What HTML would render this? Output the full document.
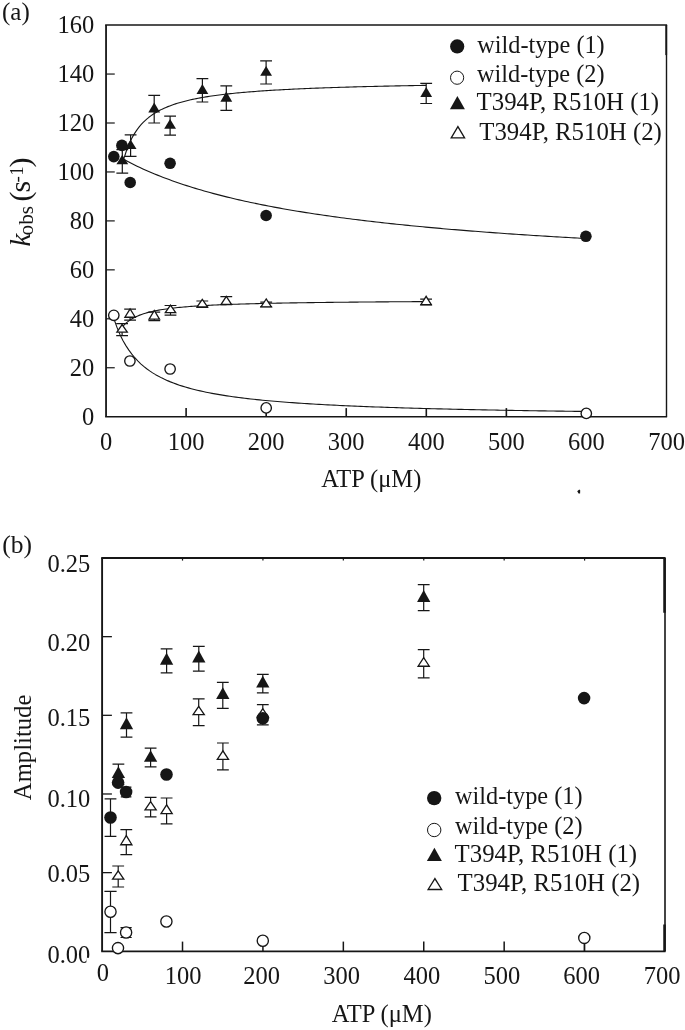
<!DOCTYPE html>
<html><head><meta charset="utf-8"><style>
html,body{margin:0;padding:0;background:#fff;}
svg{display:block;will-change:transform;}
text{font-family:"Liberation Serif",serif;fill:#161616;}
</style></head><body>
<svg width="685" height="1030" viewBox="0 0 685 1030">
<rect width="685" height="1030" fill="#fff"/>
<path d="M106.05 25.1V416.7" stroke="#161616" stroke-width="1.8"/>
<path d="M105.14999999999999 416.7H667.1" stroke="#161616" stroke-width="1.6"/>
<path d="M105.14999999999999 25.1H667.1" stroke="#161616" stroke-width="1.5"/>
<path d="M666.5 25.1V416.7" stroke="#161616" stroke-width="1.4"/>
<path d="M666.2 25.1V55.1" stroke="#161616" stroke-width="1.8"/>
<path d="M106.05 367.75H114.75" stroke="#161616" stroke-width="1.2"/>
<path d="M106.05 318.80H114.75" stroke="#161616" stroke-width="1.2"/>
<path d="M106.05 269.85H114.75" stroke="#161616" stroke-width="1.2"/>
<path d="M106.05 220.90H114.75" stroke="#161616" stroke-width="1.2"/>
<path d="M106.05 171.95H114.75" stroke="#161616" stroke-width="1.2"/>
<path d="M106.05 123.00H114.75" stroke="#161616" stroke-width="1.2"/>
<path d="M106.05 74.05H114.75" stroke="#161616" stroke-width="1.2"/>
<path d="M186.11 416.7V408.09999999999997" stroke="#161616" stroke-width="1.6"/>
<path d="M266.18 416.7V408.09999999999997" stroke="#161616" stroke-width="1.6"/>
<path d="M346.24 416.7V408.09999999999997" stroke="#161616" stroke-width="1.6"/>
<path d="M426.31 416.7V408.09999999999997" stroke="#161616" stroke-width="1.6"/>
<path d="M506.37 416.7V408.09999999999997" stroke="#161616" stroke-width="1.6"/>
<path d="M586.44 416.7V408.09999999999997" stroke="#161616" stroke-width="1.6"/>
<path d="M124.20 157.74 L126.10 151.77 L128.00 146.65 L129.90 142.21 L131.80 138.32 L133.70 134.89 L135.60 131.84 L137.50 129.11 L139.39 126.66 L141.29 124.43 L143.19 122.41 L145.09 120.56 L146.99 118.87 L148.89 117.31 L150.79 115.88 L152.69 114.55 L154.59 113.31 L156.49 112.16 L158.39 111.08 L160.29 110.08 L162.19 109.13 L164.09 108.25 L165.99 107.42 L167.89 106.63 L169.78 105.89 L171.68 105.18 L173.58 104.52 L175.48 103.89 L177.38 103.29 L179.28 102.72 L181.18 102.17 L183.08 101.66 L184.98 101.16 L186.88 100.69 L188.78 100.24 L190.68 99.80 L192.58 99.39 L194.48 98.99 L196.38 98.61 L198.28 98.24 L200.17 97.89 L202.07 97.55 L203.97 97.22 L205.87 96.91 L207.77 96.60 L209.67 96.31 L211.57 96.03 L213.47 95.75 L215.37 95.49 L217.27 95.23 L219.17 94.98 L221.07 94.74 L222.97 94.51 L224.87 94.29 L226.77 94.07 L228.67 93.86 L230.56 93.65 L232.46 93.45 L234.36 93.26 L236.26 93.07 L238.16 92.89 L240.06 92.71 L241.96 92.53 L243.86 92.37 L245.76 92.20 L247.66 92.04 L249.56 91.89 L251.46 91.73 L253.36 91.59 L255.26 91.44 L257.16 91.30 L259.06 91.16 L260.95 91.03 L262.85 90.90 L264.75 90.77 L266.65 90.64 L268.55 90.52 L270.45 90.40 L272.35 90.28 L274.25 90.17 L276.15 90.06 L278.05 89.95 L279.95 89.84 L281.85 89.74 L283.75 89.63 L285.65 89.53 L287.55 89.43 L289.45 89.34 L291.34 89.24 L293.24 89.15 L295.14 89.06 L297.04 88.97 L298.94 88.88 L300.84 88.80 L302.74 88.71 L304.64 88.63 L306.54 88.55 L308.44 88.47 L310.34 88.39 L312.24 88.31 L314.14 88.24 L316.04 88.17 L317.94 88.09 L319.84 88.02 L321.73 87.95 L323.63 87.88 L325.53 87.81 L327.43 87.75 L329.33 87.68 L331.23 87.62 L333.13 87.55 L335.03 87.49 L336.93 87.43 L338.83 87.37 L340.73 87.31 L342.63 87.25 L344.53 87.19 L346.43 87.14 L348.33 87.08 L350.23 87.03 L352.12 86.97 L354.02 86.92 L355.92 86.87 L357.82 86.81 L359.72 86.76 L361.62 86.71 L363.52 86.66 L365.42 86.61 L367.32 86.57 L369.22 86.52 L371.12 86.47 L373.02 86.43 L374.92 86.38 L376.82 86.34 L378.72 86.29 L380.62 86.25 L382.51 86.20 L384.41 86.16 L386.31 86.12 L388.21 86.08 L390.11 86.04 L392.01 86.00 L393.91 85.96 L395.81 85.92 L397.71 85.88 L399.61 85.84 L401.51 85.80 L403.41 85.77 L405.31 85.73 L407.21 85.69 L409.11 85.66 L411.01 85.62 L412.90 85.59 L414.80 85.55 L416.70 85.52 L418.60 85.48 L420.50 85.45 L422.40 85.42 L424.30 85.38 L426.20 85.35" stroke="#161616" stroke-width="1.1" fill="none" stroke-linejoin="round"/>
<path d="M122.50 158.75 L125.42 160.31 L128.33 161.84 L131.25 163.32 L134.16 164.77 L137.08 166.18 L139.99 167.55 L142.91 168.89 L145.82 170.20 L148.74 171.47 L151.65 172.72 L154.57 173.93 L157.48 175.12 L160.40 176.28 L163.31 177.41 L166.23 178.52 L169.14 179.60 L172.06 180.66 L174.97 181.70 L177.89 182.71 L180.80 183.70 L183.72 184.67 L186.63 185.62 L189.55 186.55 L192.46 187.47 L195.38 188.36 L198.29 189.23 L201.21 190.09 L204.12 190.93 L207.04 191.76 L209.95 192.56 L212.87 193.36 L215.78 194.13 L218.70 194.90 L221.61 195.65 L224.53 196.38 L227.44 197.10 L230.36 197.81 L233.27 198.51 L236.19 199.19 L239.10 199.86 L242.02 200.52 L244.93 201.17 L247.85 201.81 L250.76 202.43 L253.68 203.05 L256.59 203.66 L259.51 204.25 L262.42 204.84 L265.34 205.41 L268.25 205.98 L271.17 206.54 L274.08 207.09 L277.00 207.63 L279.92 208.16 L282.83 208.68 L285.75 209.20 L288.66 209.70 L291.58 210.20 L294.49 210.69 L297.41 211.18 L300.32 211.66 L303.24 212.13 L306.15 212.59 L309.07 213.05 L311.98 213.50 L314.90 213.94 L317.81 214.38 L320.73 214.81 L323.64 215.24 L326.56 215.65 L329.47 216.07 L332.39 216.48 L335.30 216.88 L338.22 217.27 L341.13 217.67 L344.05 218.05 L346.96 218.43 L349.88 218.81 L352.79 219.18 L355.71 219.55 L358.62 219.91 L361.54 220.27 L364.45 220.62 L367.37 220.97 L370.28 221.31 L373.20 221.65 L376.11 221.98 L379.03 222.31 L381.94 222.64 L384.86 222.96 L387.77 223.28 L390.69 223.60 L393.60 223.91 L396.52 224.22 L399.43 224.52 L402.35 224.82 L405.26 225.12 L408.18 225.41 L411.09 225.70 L414.01 225.99 L416.92 226.27 L419.84 226.55 L422.75 226.82 L425.67 227.10 L428.58 227.37 L431.50 227.64 L434.42 227.90 L437.33 228.16 L440.25 228.42 L443.16 228.68 L446.08 228.93 L448.99 229.18 L451.91 229.43 L454.82 229.67 L457.74 229.92 L460.65 230.16 L463.57 230.39 L466.48 230.63 L469.40 230.86 L472.31 231.09 L475.23 231.32 L478.14 231.55 L481.06 231.77 L483.97 231.99 L486.89 232.21 L489.80 232.42 L492.72 232.64 L495.63 232.85 L498.55 233.06 L501.46 233.27 L504.38 233.48 L507.29 233.68 L510.21 233.88 L513.12 234.08 L516.04 234.28 L518.95 234.48 L521.87 234.67 L524.78 234.86 L527.70 235.05 L530.61 235.24 L533.53 235.43 L536.44 235.62 L539.36 235.80 L542.27 235.98 L545.19 236.16 L548.10 236.34 L551.02 236.52 L553.93 236.69 L556.85 236.87 L559.76 237.04 L562.68 237.21 L565.59 237.38 L568.51 237.55 L571.42 237.71 L574.34 237.88 L577.25 238.04 L580.17 238.20 L583.08 238.36 L586.00 238.52" stroke="#161616" stroke-width="1.1" fill="none" stroke-linejoin="round"/>
<path d="M122.50 326.83 L124.41 324.72 L126.32 322.91 L128.23 321.35 L130.14 319.98 L132.05 318.78 L133.96 317.71 L135.87 316.76 L137.78 315.90 L139.69 315.12 L141.60 314.41 L143.51 313.77 L145.42 313.18 L147.33 312.64 L149.24 312.14 L151.15 311.67 L153.06 311.24 L154.97 310.84 L156.88 310.47 L158.79 310.12 L160.70 309.80 L162.61 309.49 L164.52 309.20 L166.43 308.93 L168.34 308.67 L170.25 308.43 L172.16 308.20 L174.07 307.98 L175.98 307.77 L177.89 307.57 L179.80 307.38 L181.71 307.20 L183.62 307.03 L185.53 306.87 L187.44 306.71 L189.35 306.56 L191.26 306.42 L193.17 306.28 L195.08 306.15 L196.99 306.02 L198.90 305.90 L200.81 305.78 L202.72 305.67 L204.63 305.56 L206.54 305.46 L208.45 305.36 L210.36 305.26 L212.27 305.16 L214.18 305.07 L216.09 304.98 L218.00 304.90 L219.91 304.82 L221.82 304.74 L223.73 304.66 L225.64 304.58 L227.55 304.51 L229.46 304.44 L231.37 304.37 L233.28 304.30 L235.19 304.24 L237.10 304.18 L239.01 304.11 L240.92 304.05 L242.83 304.00 L244.74 303.94 L246.65 303.88 L248.56 303.83 L250.47 303.78 L252.38 303.73 L254.29 303.68 L256.20 303.63 L258.11 303.58 L260.02 303.54 L261.93 303.49 L263.84 303.45 L265.75 303.40 L267.66 303.36 L269.57 303.32 L271.48 303.28 L273.39 303.24 L275.31 303.20 L277.22 303.16 L279.13 303.13 L281.04 303.09 L282.95 303.06 L284.86 303.02 L286.77 302.99 L288.68 302.95 L290.59 302.92 L292.50 302.89 L294.41 302.86 L296.32 302.83 L298.23 302.80 L300.14 302.77 L302.05 302.74 L303.96 302.71 L305.87 302.68 L307.78 302.65 L309.69 302.63 L311.60 302.60 L313.51 302.58 L315.42 302.55 L317.33 302.53 L319.24 302.50 L321.15 302.48 L323.06 302.45 L324.97 302.43 L326.88 302.41 L328.79 302.38 L330.70 302.36 L332.61 302.34 L334.52 302.32 L336.43 302.30 L338.34 302.28 L340.25 302.26 L342.16 302.24 L344.07 302.22 L345.98 302.20 L347.89 302.18 L349.80 302.16 L351.71 302.14 L353.62 302.12 L355.53 302.10 L357.44 302.09 L359.35 302.07 L361.26 302.05 L363.17 302.03 L365.08 302.02 L366.99 302.00 L368.90 301.98 L370.81 301.97 L372.72 301.95 L374.63 301.94 L376.54 301.92 L378.45 301.91 L380.36 301.89 L382.27 301.88 L384.18 301.86 L386.09 301.85 L388.00 301.83 L389.91 301.82 L391.82 301.80 L393.73 301.79 L395.64 301.78 L397.55 301.76 L399.46 301.75 L401.37 301.74 L403.28 301.73 L405.19 301.71 L407.10 301.70 L409.01 301.69 L410.92 301.68 L412.83 301.66 L414.74 301.65 L416.65 301.64 L418.56 301.63 L420.47 301.62 L422.38 301.61 L424.29 301.59 L426.20 301.58" stroke="#161616" stroke-width="1.1" fill="none" stroke-linejoin="round"/>
<path d="M114.00 319.03 L116.97 327.36 L119.94 334.39 L122.92 340.41 L125.89 345.62 L128.86 350.17 L131.83 354.18 L134.80 357.74 L137.77 360.93 L140.75 363.79 L143.72 366.38 L146.69 368.73 L149.66 370.88 L152.63 372.85 L155.60 374.65 L158.58 376.32 L161.55 377.87 L164.52 379.30 L167.49 380.63 L170.46 381.88 L173.43 383.04 L176.41 384.13 L179.38 385.16 L182.35 386.12 L185.32 387.03 L188.29 387.89 L191.26 388.70 L194.24 389.47 L197.21 390.20 L200.18 390.89 L203.15 391.55 L206.12 392.18 L209.09 392.77 L212.07 393.35 L215.04 393.89 L218.01 394.41 L220.98 394.91 L223.95 395.39 L226.92 395.85 L229.90 396.29 L232.87 396.71 L235.84 397.12 L238.81 397.51 L241.78 397.89 L244.75 398.25 L247.73 398.60 L250.70 398.94 L253.67 399.26 L256.64 399.58 L259.61 399.88 L262.58 400.18 L265.56 400.46 L268.53 400.74 L271.50 401.00 L274.47 401.26 L277.44 401.51 L280.42 401.76 L283.39 401.99 L286.36 402.22 L289.33 402.45 L292.30 402.66 L295.27 402.87 L298.25 403.08 L301.22 403.28 L304.19 403.47 L307.16 403.66 L310.13 403.84 L313.10 404.02 L316.08 404.20 L319.05 404.37 L322.02 404.53 L324.99 404.70 L327.96 404.85 L330.93 405.01 L333.91 405.16 L336.88 405.31 L339.85 405.45 L342.82 405.59 L345.79 405.73 L348.76 405.86 L351.74 405.99 L354.71 406.12 L357.68 406.25 L360.65 406.37 L363.62 406.49 L366.59 406.61 L369.57 406.73 L372.54 406.84 L375.51 406.95 L378.48 407.06 L381.45 407.16 L384.42 407.27 L387.40 407.37 L390.37 407.47 L393.34 407.57 L396.31 407.67 L399.28 407.76 L402.25 407.85 L405.23 407.95 L408.20 408.04 L411.17 408.12 L414.14 408.21 L417.11 408.30 L420.08 408.38 L423.06 408.46 L426.03 408.54 L429.00 408.62 L431.97 408.70 L434.94 408.78 L437.92 408.85 L440.89 408.92 L443.86 409.00 L446.83 409.07 L449.80 409.14 L452.77 409.21 L455.75 409.28 L458.72 409.34 L461.69 409.41 L464.66 409.48 L467.63 409.54 L470.60 409.60 L473.58 409.66 L476.55 409.73 L479.52 409.79 L482.49 409.85 L485.46 409.90 L488.43 409.96 L491.41 410.02 L494.38 410.07 L497.35 410.13 L500.32 410.18 L503.29 410.24 L506.26 410.29 L509.24 410.34 L512.21 410.39 L515.18 410.45 L518.15 410.50 L521.12 410.54 L524.09 410.59 L527.07 410.64 L530.04 410.69 L533.01 410.74 L535.98 410.78 L538.95 410.83 L541.92 410.87 L544.90 410.92 L547.87 410.96 L550.84 411.00 L553.81 411.05 L556.78 411.09 L559.75 411.13 L562.73 411.17 L565.70 411.21 L568.67 411.25 L571.64 411.29 L574.61 411.33 L577.58 411.37 L580.56 411.41 L583.53 411.45 L586.50 411.48" stroke="#161616" stroke-width="1.1" fill="none" stroke-linejoin="round"/>
<path d="M122.3 149.6V173.2M116.40 149.6H128.20M116.40 173.2H128.20" stroke="#161616" stroke-width="1.2" fill="none"/>
<path d="M130.6 134.9V156.4M124.70 134.9H136.50M124.70 156.4H136.50" stroke="#161616" stroke-width="1.2" fill="none"/>
<path d="M154.2 95.4V123.0M148.30 95.4H160.10M148.30 123.0H160.10" stroke="#161616" stroke-width="1.2" fill="none"/>
<path d="M170.1 116.2V135.2M164.20 116.2H176.00M164.20 135.2H176.00" stroke="#161616" stroke-width="1.2" fill="none"/>
<path d="M202.4 78.6V102.0M196.50 78.6H208.30M196.50 102.0H208.30" stroke="#161616" stroke-width="1.2" fill="none"/>
<path d="M226.3 85.9V110.3M220.40 85.9H232.20M220.40 110.3H232.20" stroke="#161616" stroke-width="1.2" fill="none"/>
<path d="M266.1 60.9V84.0M260.20 60.9H272.00M260.20 84.0H272.00" stroke="#161616" stroke-width="1.2" fill="none"/>
<path d="M426.2 83.4V103.5M420.30 83.4H432.10M420.30 103.5H432.10" stroke="#161616" stroke-width="1.2" fill="none"/>
<polygon points="122.30,154.80 116.40,164.20 128.20,164.20" fill="#161616"/>
<polygon points="130.60,139.60 124.70,148.90 136.50,148.90" fill="#161616"/>
<polygon points="154.20,102.60 148.30,112.60 160.10,112.60" fill="#161616"/>
<polygon points="170.10,119.00 164.20,128.80 176.00,128.80" fill="#161616"/>
<polygon points="202.40,83.90 196.50,93.90 208.30,93.90" fill="#161616"/>
<polygon points="226.30,91.60 220.40,101.70 232.20,101.70" fill="#161616"/>
<polygon points="266.10,66.10 260.20,75.80 272.00,75.80" fill="#161616"/>
<polygon points="426.20,87.10 420.30,96.90 432.10,96.90" fill="#161616"/>
<circle cx="113.8" cy="156.6" r="5.8" fill="#161616"/>
<circle cx="121.9" cy="145.4" r="5.8" fill="#161616"/>
<circle cx="130.2" cy="182.5" r="5.8" fill="#161616"/>
<circle cx="170.1" cy="163.3" r="5.8" fill="#161616"/>
<circle cx="266.1" cy="215.5" r="5.8" fill="#161616"/>
<circle cx="585.9" cy="236.3" r="5.8" fill="#161616"/>
<path d="M122.1 323.6V335.6M116.20 323.6H128.00M116.20 335.6H128.00" stroke="#161616" stroke-width="1.2" fill="none"/>
<path d="M130.1 309.1V320.2M124.20 309.1H136.00M124.20 320.2H136.00" stroke="#161616" stroke-width="1.2" fill="none"/>
<path d="M154.3 312.2V320.6M148.40 312.2H160.20M148.40 320.6H160.20" stroke="#161616" stroke-width="1.2" fill="none"/>
<path d="M170.5 305.5V315.2M164.60 305.5H176.40M164.60 315.2H176.40" stroke="#161616" stroke-width="1.2" fill="none"/>
<path d="M202.3 301.0V307.4M196.40 301.0H208.20M196.40 307.4H208.20" stroke="#161616" stroke-width="1.2" fill="none"/>
<path d="M226.3 296.6V304.6M220.40 296.6H232.20M220.40 304.6H232.20" stroke="#161616" stroke-width="1.2" fill="none"/>
<path d="M266.2 302.2V306.6M260.30 302.2H272.10M260.30 306.6H272.10" stroke="#161616" stroke-width="1.2" fill="none"/>
<path d="M426.1 299.1V304.8M420.20 299.1H432.00M420.20 304.8H432.00" stroke="#161616" stroke-width="1.2" fill="none"/>
<polygon points="122.10,324.60 116.90,332.15 127.30,332.15" fill="#fff" stroke="#161616" stroke-width="1.3" stroke-linejoin="miter"/>
<polygon points="130.10,308.90 124.90,317.25 135.30,317.25" fill="#fff" stroke="#161616" stroke-width="1.3" stroke-linejoin="miter"/>
<polygon points="154.30,310.50 149.10,319.05 159.50,319.05" fill="#fff" stroke="#161616" stroke-width="1.3" stroke-linejoin="miter"/>
<polygon points="170.50,305.10 165.30,312.65 175.70,312.65" fill="#fff" stroke="#161616" stroke-width="1.3" stroke-linejoin="miter"/>
<polygon points="202.30,299.40 197.10,306.95 207.50,306.95" fill="#fff" stroke="#161616" stroke-width="1.3" stroke-linejoin="miter"/>
<polygon points="226.30,296.40 221.10,304.35 231.50,304.35" fill="#fff" stroke="#161616" stroke-width="1.3" stroke-linejoin="miter"/>
<polygon points="266.20,299.00 261.00,306.85 271.40,306.85" fill="#fff" stroke="#161616" stroke-width="1.3" stroke-linejoin="miter"/>
<polygon points="426.10,296.30 420.90,304.55 431.30,304.55" fill="#fff" stroke="#161616" stroke-width="1.3" stroke-linejoin="miter"/>
<circle cx="113.8" cy="315.3" r="5.2" fill="#fff" stroke="#161616" stroke-width="1.35"/>
<circle cx="129.9" cy="361.0" r="5.2" fill="#fff" stroke="#161616" stroke-width="1.35"/>
<circle cx="170.1" cy="369.0" r="5.2" fill="#fff" stroke="#161616" stroke-width="1.35"/>
<circle cx="266.2" cy="407.9" r="5.2" fill="#fff" stroke="#161616" stroke-width="1.35"/>
<circle cx="586.3" cy="413.4" r="5.2" fill="#fff" stroke="#161616" stroke-width="1.35"/>
<text x="94.3" y="424.9" font-size="24.5" text-anchor="end" >0</text>
<text x="94.3" y="375.95" font-size="24.5" text-anchor="end" >20</text>
<text x="94.3" y="327.0" font-size="24.5" text-anchor="end" >40</text>
<text x="94.3" y="278.05" font-size="24.5" text-anchor="end" >60</text>
<text x="94.3" y="229.1" font-size="24.5" text-anchor="end" >80</text>
<text x="94.3" y="180.15" font-size="24.5" text-anchor="end" >100</text>
<text x="94.3" y="131.2" font-size="24.5" text-anchor="end" >120</text>
<text x="94.3" y="82.25000000000001" font-size="24.5" text-anchor="end" >140</text>
<text x="94.3" y="33.300000000000026" font-size="24.5" text-anchor="end" >160</text>
<text x="106.05" y="449.6" font-size="24.5" text-anchor="middle" >0</text>
<text x="186.1142857142857" y="449.6" font-size="24.5" text-anchor="middle" >100</text>
<text x="266.17857142857144" y="449.6" font-size="24.5" text-anchor="middle" >200</text>
<text x="346.24285714285713" y="449.6" font-size="24.5" text-anchor="middle" >300</text>
<text x="426.3071428571429" y="449.6" font-size="24.5" text-anchor="middle" >400</text>
<text x="506.3714285714286" y="449.6" font-size="24.5" text-anchor="middle" >500</text>
<text x="586.4357142857143" y="449.6" font-size="24.5" text-anchor="middle" >600</text>
<text x="666.5" y="449.6" font-size="24.5" text-anchor="middle" >700</text>
<text x="371.3" y="487.2" font-size="24.5" text-anchor="middle" >ATP (μM)</text>
<text x="2" y="19.7" font-size="25" text-anchor="start" >(a)</text>
<circle cx="457.2" cy="46.4" r="7.1" fill="#161616"/>
<circle cx="457.1" cy="77.7" r="6.6" fill="#fff" stroke="#161616" stroke-width="1.0"/>
<polygon points="457.4,96.0 449.9,109.2 464.9,109.2" fill="#161616"/>
<polygon points="457.9,126.6 451.2,137.9 464.6,137.9" fill="#fff" stroke="#161616" stroke-width="1.3"/>
<text x="477.2" y="52.6" font-size="24.3" text-anchor="start" >wild-type (1)</text>
<text x="477.0" y="82.3" font-size="24.3" text-anchor="start" >wild-type (2)</text>
<text x="476.6" y="110.2" font-size="24.8" text-anchor="start" >T394P, R510H (1)</text>
<text x="479.3" y="140.0" font-size="24.8" text-anchor="start" >T394P, R510H (2)</text>
<text transform="translate(30,246) rotate(-90)" font-size="30"><tspan x="-0.6" y="-0.5" font-style="italic" font-size="29">k</tspan><tspan x="10.5" y="2.7" font-size="21.3">obs</tspan><tspan x="44.5" y="0">(</tspan><tspan x="53.4" y="0">s</tspan><tspan x="63.5" y="-7.4" font-size="19">-</tspan><tspan x="70.2" y="-7.4" font-size="19">1</tspan><tspan x="78.6" y="0">)</tspan></text>
<path d="M102.1 558.0V951.3" stroke="#161616" stroke-width="1.9"/>
<path d="M101.19999999999999 951.3H665.6" stroke="#161616" stroke-width="1.7"/>
<path d="M101.19999999999999 558.0H665.6" stroke="#161616" stroke-width="2"/>
<path d="M665.0 558.0V951.3" stroke="#161616" stroke-width="1.6"/>
<path d="M664.5 558.0V612.8M664.5 924.5V951.3" stroke="#161616" stroke-width="2.5"/>
<path d="M102.1 872.64H111.89999999999999" stroke="#161616" stroke-width="1.3"/>
<path d="M102.1 793.98H111.89999999999999" stroke="#161616" stroke-width="1.3"/>
<path d="M102.1 715.32H111.89999999999999" stroke="#161616" stroke-width="1.3"/>
<path d="M102.1 636.66H111.89999999999999" stroke="#161616" stroke-width="1.3"/>
<path d="M182.51 951.3V941.5999999999999" stroke="#161616" stroke-width="1.5"/>
<path d="M182.51 558.0V560.6" stroke="#161616" stroke-width="1.2"/>
<path d="M262.93 951.3V941.5999999999999" stroke="#161616" stroke-width="1.5"/>
<path d="M262.93 558.0V560.6" stroke="#161616" stroke-width="1.2"/>
<path d="M343.34 951.3V941.5999999999999" stroke="#161616" stroke-width="1.5"/>
<path d="M343.34 558.0V560.6" stroke="#161616" stroke-width="1.2"/>
<path d="M423.76 951.3V941.5999999999999" stroke="#161616" stroke-width="1.5"/>
<path d="M423.76 558.0V560.6" stroke="#161616" stroke-width="1.2"/>
<path d="M504.17 951.3V941.5999999999999" stroke="#161616" stroke-width="1.5"/>
<path d="M504.17 558.0V560.6" stroke="#161616" stroke-width="1.2"/>
<path d="M584.59 951.3V941.5999999999999" stroke="#161616" stroke-width="1.5"/>
<path d="M584.59 558.0V560.6" stroke="#161616" stroke-width="1.2"/>
<path d="M118.2 866.0V887.0M112.30 866.0H124.10M112.30 887.0H124.10" stroke="#161616" stroke-width="1.2" fill="none"/>
<path d="M126.3 829.6V854.7M120.40 829.6H132.20M120.40 854.7H132.20" stroke="#161616" stroke-width="1.2" fill="none"/>
<path d="M150.6 797.4V816.9M144.70 797.4H156.50M144.70 816.9H156.50" stroke="#161616" stroke-width="1.2" fill="none"/>
<path d="M166.6 798.0V823.9M160.70 798.0H172.50M160.70 823.9H172.50" stroke="#161616" stroke-width="1.2" fill="none"/>
<path d="M198.7 698.9V725.6M192.80 698.9H204.60M192.80 725.6H204.60" stroke="#161616" stroke-width="1.2" fill="none"/>
<path d="M222.9 743.0V769.8M217.00 743.0H228.80M217.00 769.8H228.80" stroke="#161616" stroke-width="1.2" fill="none"/>
<path d="M262.8 704.7V724.9M256.90 704.7H268.70M256.90 724.9H268.70" stroke="#161616" stroke-width="1.2" fill="none"/>
<path d="M423.7 649.6V677.8M417.80 649.6H429.60M417.80 677.8H429.60" stroke="#161616" stroke-width="1.2" fill="none"/>
<polygon points="118.20,870.90 112.60,879.05 123.80,879.05" fill="#fff" stroke="#161616" stroke-width="1.3" stroke-linejoin="miter"/>
<polygon points="126.30,835.60 120.70,844.75 131.90,844.75" fill="#fff" stroke="#161616" stroke-width="1.3" stroke-linejoin="miter"/>
<polygon points="150.60,801.60 145.00,809.95 156.20,809.95" fill="#fff" stroke="#161616" stroke-width="1.3" stroke-linejoin="miter"/>
<polygon points="166.60,804.80 161.00,813.65 172.20,813.65" fill="#fff" stroke="#161616" stroke-width="1.3" stroke-linejoin="miter"/>
<polygon points="198.70,706.40 193.10,714.55 204.30,714.55" fill="#fff" stroke="#161616" stroke-width="1.3" stroke-linejoin="miter"/>
<polygon points="222.90,750.80 217.30,759.35 228.50,759.35" fill="#fff" stroke="#161616" stroke-width="1.3" stroke-linejoin="miter"/>
<polygon points="262.80,708.60 257.20,717.15 268.40,717.15" fill="#fff" stroke="#161616" stroke-width="1.3" stroke-linejoin="miter"/>
<polygon points="423.70,657.70 418.10,666.25 429.30,666.25" fill="#fff" stroke="#161616" stroke-width="1.3" stroke-linejoin="miter"/>
<path d="M118.4 764.2V784.6M112.50 764.2H124.30M112.50 784.6H124.30" stroke="#161616" stroke-width="1.2" fill="none"/>
<path d="M126.5 712.8V737.1M120.60 712.8H132.40M120.60 737.1H132.40" stroke="#161616" stroke-width="1.2" fill="none"/>
<path d="M150.6 748.2V766.9M144.70 748.2H156.50M144.70 766.9H156.50" stroke="#161616" stroke-width="1.2" fill="none"/>
<path d="M166.6 648.8V672.9M160.70 648.8H172.50M160.70 672.9H172.50" stroke="#161616" stroke-width="1.2" fill="none"/>
<path d="M198.8 646.4V671.2M192.90 646.4H204.70M192.90 671.2H204.70" stroke="#161616" stroke-width="1.2" fill="none"/>
<path d="M222.8 682.3V708.4M216.90 682.3H228.70M216.90 708.4H228.70" stroke="#161616" stroke-width="1.2" fill="none"/>
<path d="M262.8 674.4V692.8M256.90 674.4H268.70M256.90 692.8H268.70" stroke="#161616" stroke-width="1.2" fill="none"/>
<path d="M423.7 584.6V610.6M417.80 584.6H429.60M417.80 610.6H429.60" stroke="#161616" stroke-width="1.2" fill="none"/>
<polygon points="118.40,766.30 111.75,778.00 125.05,778.00" fill="#161616"/>
<polygon points="126.50,717.30 119.85,729.20 133.15,729.20" fill="#161616"/>
<polygon points="150.60,750.30 143.95,761.80 157.25,761.80" fill="#161616"/>
<polygon points="166.60,652.70 159.95,664.80 173.25,664.80" fill="#161616"/>
<polygon points="198.80,650.50 192.15,662.50 205.45,662.50" fill="#161616"/>
<polygon points="222.80,687.30 216.15,699.10 229.45,699.10" fill="#161616"/>
<polygon points="262.80,675.70 256.15,687.40 269.45,687.40" fill="#161616"/>
<polygon points="423.70,589.90 417.05,602.00 430.35,602.00" fill="#161616"/>
<path d="M110.5 798.8V836.3M104.60 798.8H116.40M104.60 836.3H116.40" stroke="#161616" stroke-width="1.2" fill="none"/>
<path d="M110.5 891.3V932.7M104.40 891.3H116.60M104.40 932.7H116.60" stroke="#161616" stroke-width="1.2" fill="none"/>
<path d="M126.1 927.6V937.5M120.50 927.6H131.70M120.50 937.5H131.70" stroke="#161616" stroke-width="1.2" fill="none"/>
<path d="M126.1 787.2V796.8M120.80 787.2H131.40M120.80 796.8H131.40" stroke="#161616" stroke-width="1.2" fill="none"/>
<path d="M584.3 937.9V951M584.25 937.9H584.35M584.25 951H584.35" stroke="#161616" stroke-width="1.2" fill="none"/>
<circle cx="110.5" cy="817.5" r="6.3" fill="#161616"/>
<circle cx="118.1" cy="782.6" r="6.3" fill="#161616"/>
<circle cx="126.1" cy="792.0" r="6.3" fill="#161616"/>
<circle cx="166.5" cy="774.5" r="6.3" fill="#161616"/>
<circle cx="262.8" cy="718.3" r="6.3" fill="#161616"/>
<circle cx="584.1" cy="698.1" r="6.3" fill="#161616"/>
<circle cx="110.5" cy="911.7" r="5.6" fill="#fff" stroke="#161616" stroke-width="1.35"/>
<circle cx="118.0" cy="948.1" r="5.6" fill="#fff" stroke="#161616" stroke-width="1.35"/>
<circle cx="126.1" cy="932.5" r="5.6" fill="#fff" stroke="#161616" stroke-width="1.35"/>
<circle cx="166.4" cy="921.5" r="5.6" fill="#fff" stroke="#161616" stroke-width="1.35"/>
<circle cx="262.8" cy="940.7" r="5.6" fill="#fff" stroke="#161616" stroke-width="1.35"/>
<circle cx="584.3" cy="937.9" r="5.6" fill="#fff" stroke="#161616" stroke-width="1.35"/>
<text x="90.3" y="572.1" font-size="24.5" text-anchor="end" >0.25</text>
<text x="90.3" y="651.4" font-size="24.5" text-anchor="end" >0.20</text>
<text x="90.3" y="726.3" font-size="24.5" text-anchor="end" >0.15</text>
<text x="90.3" y="807.2" font-size="24.5" text-anchor="end" >0.10</text>
<text x="90.3" y="881.8" font-size="24.5" text-anchor="end" >0.05</text>
<text x="90.3" y="962.9" font-size="24.5" text-anchor="end" >0.00</text>
<rect x="86.4" y="957.8" width="7" height="8" fill="#fff"/>
<text x="102.9" y="980.8" font-size="24.5" text-anchor="middle" >0</text>
<text x="183.0" y="983.9" font-size="24.5" text-anchor="middle" >100</text>
<text x="261.7" y="984.3" font-size="24.5" text-anchor="middle" >200</text>
<text x="341.6" y="984.3" font-size="24.5" text-anchor="middle" >300</text>
<text x="421.9" y="984.3" font-size="24.5" text-anchor="middle" >400</text>
<text x="501.9" y="984.3" font-size="24.5" text-anchor="middle" >500</text>
<text x="581.7" y="984.3" font-size="24.5" text-anchor="middle" >600</text>
<text x="662.0" y="984.3" font-size="24.5" text-anchor="middle" >700</text>
<text x="381.8" y="1022.1" font-size="24.5" text-anchor="middle" >ATP (μM)</text>
<text x="2.3" y="552.5" font-size="25.5" text-anchor="start" >(b)</text>
<text transform="translate(30.6,800.2) rotate(-90)" font-size="24.7">Amplitude</text>
<circle cx="434.2" cy="798.1" r="7.2" fill="#161616"/>
<circle cx="434.2" cy="830.0" r="6.7" fill="#fff" stroke="#161616" stroke-width="1.0"/>
<polygon points="434.4,847.8 426.9,861.1 441.9,861.1" fill="#161616"/>
<polygon points="434.9,878.6 428.1,889.5 441.7,889.5" fill="#fff" stroke="#161616" stroke-width="1.3"/>
<text x="455.0" y="803.7" font-size="24.3" text-anchor="start" >wild-type (1)</text>
<text x="455.0" y="834.3" font-size="24.3" text-anchor="start" >wild-type (2)</text>
<text x="454.6" y="862.0" font-size="24.8" text-anchor="start" >T394P, R510H (1)</text>
<text x="457.6" y="891.4" font-size="24.8" text-anchor="start" >T394P, R510H (2)</text>
<polygon points="577.2,491.3 579.3,489.6 580.2,490.2 580.1,493.4 578.6,493.6" fill="#161616"/>
</svg>
</body></html>
